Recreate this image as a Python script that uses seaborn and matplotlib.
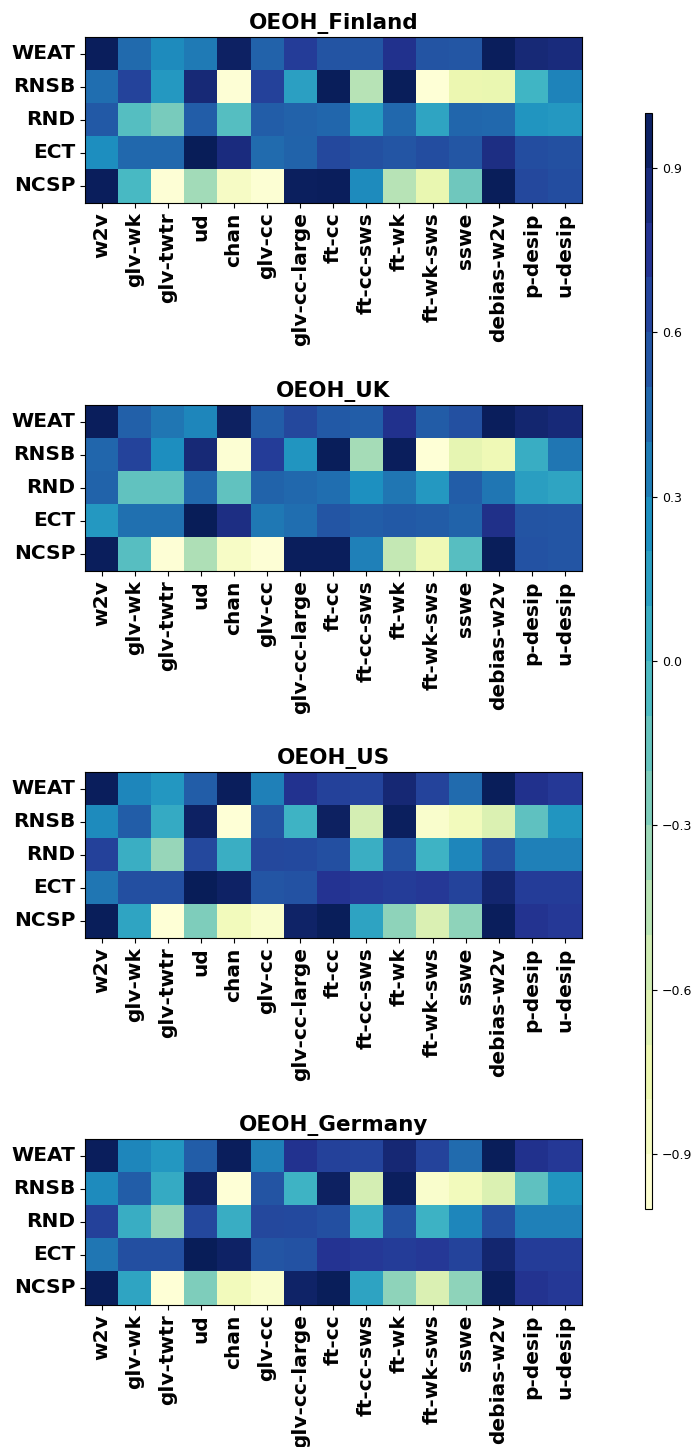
"""
OEOH bias-metric correlations per country, one heatmap per country with a shared colour bar.
"""

import matplotlib
matplotlib.use("Agg")
import matplotlib.pyplot as plt
import numpy as np
import pandas as pd
import seaborn as sns

# ── Data ───────────────────────────────────────────────────────────────────
MODELS = [
    "w2v", "glv-wk", "glv-twtr", "ud", "chan", "glv-cc", "glv-cc-large",
    "ft-cc", "ft-cc-sws", "ft-wk", "ft-wk-sws", "sswe", "debias-w2v",
    "p-desip", "u-desip",
]
TESTS = ["WEAT", "RNSB", "RND", "ECT", "NCSP"]

FINLAND = [
    [0.98, 0.44, 0.28, 0.36, 0.95, 0.48, 0.70, 0.56, 0.55, 0.78, 0.56, 0.54, 0.98, 0.87, 0.85],
    [0.42, 0.66, 0.20, 0.87, -0.97, 0.67, 0.15, 0.99, -0.44, 0.99, -0.98, -0.74, -0.73, 0.00, 0.32],
    [0.53, -0.08, -0.22, 0.50, -0.08, 0.50, 0.48, 0.46, 0.18, 0.45, 0.12, 0.46, 0.45, 0.22, 0.20],
    [0.26, 0.45, 0.45, 1.00, 0.84, 0.43, 0.47, 0.63, 0.58, 0.55, 0.60, 0.54, 0.82, 0.60, 0.58],
    [0.98, -0.03, -0.97, -0.37, -0.87, -0.96, 0.97, 0.98, 0.28, -0.44, -0.72, -0.18, 0.99, 0.63, 0.60],
]
UK = [
    [0.98, 0.49, 0.38, 0.30, 0.96, 0.50, 0.63, 0.53, 0.50, 0.78, 0.51, 0.58, 0.98, 0.90, 0.86],
    [0.46, 0.66, 0.26, 0.87, -0.96, 0.70, 0.22, 0.99, -0.38, 0.98, -0.98, -0.70, -0.78, 0.06, 0.38],
    [0.47, -0.13, -0.13, 0.45, -0.13, 0.47, 0.45, 0.42, 0.25, 0.38, 0.20, 0.50, 0.38, 0.16, 0.12],
    [0.20, 0.41, 0.41, 1.00, 0.82, 0.37, 0.42, 0.55, 0.50, 0.53, 0.51, 0.47, 0.79, 0.56, 0.55],
    [0.98, -0.09, -0.97, -0.41, -0.88, -0.97, 0.98, 0.98, 0.33, -0.49, -0.77, -0.09, 0.99, 0.57, 0.55],
]
US = [
    [0.98, 0.30, 0.21, 0.50, 0.98, 0.33, 0.77, 0.67, 0.65, 0.88, 0.66, 0.43, 0.99, 0.78, 0.72],
    [0.28, 0.50, 0.08, 0.95, -0.98, 0.56, 0.02, 0.96, -0.58, 0.97, -0.92, -0.82, -0.63, -0.12, 0.22],
    [0.67, 0.05, -0.33, 0.63, 0.05, 0.63, 0.62, 0.59, 0.05, 0.57, 0.02, 0.30, 0.59, 0.33, 0.33],
    [0.38, 0.59, 0.59, 1.00, 0.94, 0.55, 0.57, 0.75, 0.72, 0.70, 0.72, 0.66, 0.90, 0.70, 0.70],
    [0.99, 0.12, -0.98, -0.25, -0.82, -0.92, 0.93, 0.99, 0.13, -0.30, -0.62, -0.30, 0.98, 0.76, 0.72],
]
GERMANY = [
    [0.98, 0.30, 0.21, 0.50, 0.98, 0.33, 0.77, 0.67, 0.65, 0.88, 0.66, 0.43, 0.99, 0.78, 0.72],
    [0.28, 0.50, 0.08, 0.95, -0.98, 0.56, 0.02, 0.96, -0.58, 0.97, -0.92, -0.82, -0.63, -0.12, 0.22],
    [0.67, 0.06, -0.33, 0.63, 0.06, 0.63, 0.62, 0.59, 0.07, 0.57, 0.03, 0.30, 0.59, 0.33, 0.33],
    [0.38, 0.59, 0.59, 1.00, 0.94, 0.55, 0.57, 0.75, 0.72, 0.70, 0.72, 0.66, 0.90, 0.70, 0.70],
    [0.99, 0.12, -0.98, -0.25, -0.82, -0.92, 0.93, 0.99, 0.13, -0.30, -0.62, -0.30, 0.98, 0.76, 0.72],
]

PANELS = [
    ("OEOH_Finland", FINLAND),
    ("OEOH_UK", UK),
    ("OEOH_US", US),
    ("OEOH_Germany", GERMANY),
]
CBAR_TICKS = [-0.9, -0.6, -0.3, 0.0, 0.3, 0.6, 0.9]

# ── Layout (pixels) ────────────────────────────────────────────────────────
W, H = 695, 1447
LEFT, RIGHT = 85, 581.5
HM_H = 165.5
TOPS = [37, 405, 772, 1139]

fig = plt.figure(figsize=(W / 100, H / 100), dpi=100)
cax = fig.add_axes([645 / W, 1 - 1209 / H, 7 / W, 1096 / H])

for i, ((title, vals), top) in enumerate(zip(PANELS, TOPS)):
    ax = fig.add_axes([LEFT / W, 1 - (top + HM_H) / H, (RIGHT - LEFT) / W, HM_H / H])
    df = pd.DataFrame(vals, index=TESTS, columns=MODELS)
    first = i == 0
    sns.heatmap(
        df, ax=ax, cmap="YlGnBu", vmin=-1, vmax=1,
        cbar=first, cbar_ax=cax if first else None,
        # stepped colour bar, 0.1 per band
        cbar_kws={"ticks": CBAR_TICKS, "boundaries": np.linspace(-1, 1, 21)} if first else None,
    )
    for sp in ax.spines.values():
        sp.set_visible(True)
        sp.set_linewidth(0.8)
    ax.set_xticklabels(MODELS, rotation=90, fontsize=14.5, fontweight="bold")
    ax.set_yticklabels(TESTS, rotation=0, fontsize=14.5, fontweight="bold")
    ax.tick_params(length=3.5, width=0.8)
    ax.set_title(title, fontsize=15.5, fontweight="bold")
    if first:
        cb = ax.collections[0].colorbar
        cb.outline.set_visible(True)
        cb.outline.set_linewidth(0.8)
        cax.tick_params(labelsize=9, length=3.5)

fig.savefig("out.png", dpi=100)
